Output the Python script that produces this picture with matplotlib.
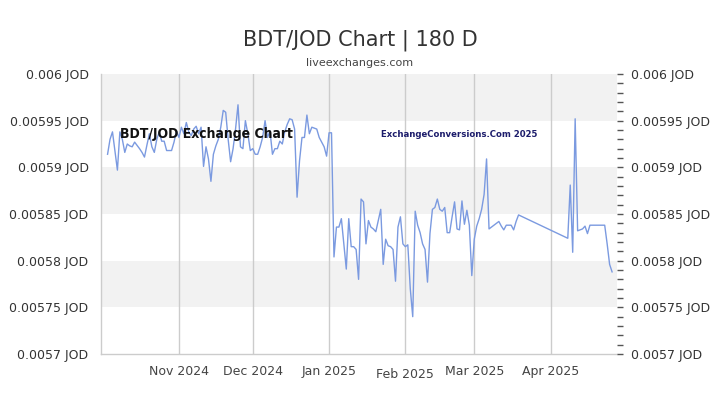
import matplotlib
matplotlib.use("Agg")
import matplotlib.pyplot as plt
import matplotlib.transforms as mtransforms
from matplotlib import font_manager
import pandas as pd

title = "BDT/JOD Chart | 180 D"
subtitle = "liveexchanges.com"
watermark_left = "BDT/JOD Exchange Chart"
watermark_right = "ExchangeConversions.Com 2025"

dates = [
    "2024-10-03", "2024-10-04", "2024-10-05", "2024-10-07", "2024-10-08", "2024-10-09",
    "2024-10-10", "2024-10-11", "2024-10-12", "2024-10-13", "2024-10-14", "2024-10-16",
    "2024-10-17", "2024-10-18", "2024-10-19", "2024-10-20", "2024-10-21", "2024-10-22",
    "2024-10-23", "2024-10-24", "2024-10-25", "2024-10-26", "2024-10-27", "2024-10-28",
    "2024-10-29", "2024-10-30", "2024-10-31",
    "2024-11-01", "2024-11-02", "2024-11-03", "2024-11-04", "2024-11-05", "2024-11-06",
    "2024-11-07", "2024-11-08", "2024-11-09", "2024-11-10", "2024-11-11", "2024-11-12",
    "2024-11-13", "2024-11-14", "2024-11-15", "2024-11-16", "2024-11-17", "2024-11-18",
    "2024-11-19", "2024-11-20", "2024-11-21", "2024-11-22", "2024-11-23", "2024-11-24",
    "2024-11-25", "2024-11-26", "2024-11-27", "2024-11-28", "2024-11-29", "2024-11-30",
    "2024-12-01", "2024-12-02", "2024-12-03", "2024-12-04", "2024-12-05", "2024-12-06",
    "2024-12-07", "2024-12-08", "2024-12-09", "2024-12-10", "2024-12-11", "2024-12-12",
    "2024-12-13", "2024-12-14", "2024-12-15", "2024-12-16", "2024-12-17", "2024-12-18",
    "2024-12-19", "2024-12-20", "2024-12-21", "2024-12-22", "2024-12-23", "2024-12-24",
    "2024-12-25", "2024-12-26", "2024-12-27", "2024-12-28", "2024-12-29", "2024-12-30",
    "2024-12-31",
    "2025-01-01", "2025-01-02", "2025-01-03", "2025-01-04", "2025-01-05", "2025-01-06",
    "2025-01-07", "2025-01-08", "2025-01-09", "2025-01-10", "2025-01-11", "2025-01-12",
    "2025-01-13", "2025-01-14", "2025-01-15", "2025-01-16", "2025-01-17", "2025-01-18",
    "2025-01-19", "2025-01-20", "2025-01-21", "2025-01-22", "2025-01-23", "2025-01-24",
    "2025-01-25", "2025-01-26", "2025-01-27", "2025-01-28", "2025-01-29", "2025-01-30",
    "2025-01-31",
    "2025-02-01", "2025-02-02", "2025-02-03", "2025-02-04", "2025-02-05", "2025-02-06",
    "2025-02-07", "2025-02-08", "2025-02-09", "2025-02-10", "2025-02-11", "2025-02-12",
    "2025-02-13", "2025-02-14", "2025-02-15", "2025-02-16", "2025-02-17", "2025-02-18",
    "2025-02-19", "2025-02-20", "2025-02-21", "2025-02-22", "2025-02-23", "2025-02-24",
    "2025-02-25", "2025-02-26", "2025-02-27", "2025-02-28",
    "2025-03-01", "2025-03-02", "2025-03-03", "2025-03-04", "2025-03-05", "2025-03-06",
    "2025-03-07", "2025-03-08", "2025-03-09", "2025-03-10", "2025-03-11", "2025-03-12",
    "2025-03-13", "2025-03-14", "2025-03-15", "2025-03-16", "2025-03-17", "2025-03-18",
    "2025-03-19",
    "2025-04-08", "2025-04-09", "2025-04-10", "2025-04-11", "2025-04-12", "2025-04-13",
    "2025-04-14", "2025-04-15", "2025-04-16", "2025-04-17", "2025-04-18", "2025-04-19",
    "2025-04-20", "2025-04-21", "2025-04-22", "2025-04-23", "2025-04-24", "2025-04-25",
    "2025-04-26",
]

rates = [
    # October
    0.005914, 0.005930, 0.005938, 0.005897, 0.005938, 0.005930,
    0.005916, 0.005925, 0.005923, 0.005922, 0.005927, 0.005920,
    0.005916, 0.005911, 0.005924, 0.005936, 0.005922, 0.005916,
    0.005930, 0.005938, 0.005928, 0.005928, 0.005918, 0.005918,
    0.005918, 0.005927, 0.005939,
    # November
    0.005932, 0.005943, 0.005936, 0.005948, 0.005938, 0.005934,
    0.005941, 0.005944, 0.005936, 0.005943, 0.005901, 0.005922,
    0.005909, 0.005885, 0.005914, 0.005923, 0.005930, 0.005943,
    0.005961, 0.005959, 0.005930, 0.005906, 0.005920, 0.005941,
    0.005967, 0.005922, 0.005920, 0.005950, 0.005936, 0.005918,
    # December
    0.005920, 0.005914, 0.005914, 0.005922, 0.005932, 0.005950,
    0.005932, 0.005939, 0.005914, 0.005920, 0.005920, 0.005928,
    0.005925, 0.005938, 0.005946, 0.005952, 0.005951, 0.005941,
    0.005868, 0.005907, 0.005932, 0.005932, 0.005956, 0.005936,
    0.005943, 0.005942, 0.005941, 0.005932, 0.005927, 0.005922,
    0.005912,
    # January
    0.005937, 0.005937, 0.005804, 0.005836, 0.005836, 0.005845,
    0.005818, 0.005791, 0.005845, 0.005815, 0.005815, 0.005812,
    0.005780, 0.005866, 0.005863, 0.005818, 0.005843, 0.005836,
    0.005834, 0.005831, 0.005843, 0.005855, 0.005796, 0.005823,
    0.005816, 0.005815, 0.005812, 0.005778, 0.005836, 0.005847,
    0.005818,
    # February
    0.005815, 0.005817, 0.005770, 0.005740, 0.005853, 0.005838,
    0.005830, 0.005818, 0.005812, 0.005777, 0.005829, 0.005855,
    0.005857, 0.005866, 0.005855, 0.005853, 0.005857, 0.005830,
    0.005830, 0.005847, 0.005863, 0.005834, 0.005833, 0.005864,
    0.005839, 0.005854, 0.005838, 0.005784,
    # March
    0.005823, 0.005837, 0.005845, 0.005855, 0.005871, 0.005909,
    0.005834, 0.005836, 0.005838, 0.005840, 0.005842, 0.005837,
    0.005833, 0.005838, 0.005838, 0.005838, 0.005833, 0.005842,
    0.005849,
    # April
    0.005824, 0.005881, 0.005809, 0.005952, 0.005832, 0.005833,
    0.005834, 0.005837, 0.005829, 0.005838, 0.005838, 0.005838,
    0.005838, 0.005838, 0.005838, 0.005838, 0.005818, 0.005796,
    0.005788,
]

y_ticks = [0.0057, 0.00575, 0.0058, 0.00585, 0.0059, 0.00595, 0.006]
y_tick_labels = ["0.0057 JOD", "0.00575 JOD", "0.0058 JOD", "0.00585 JOD",
                 "0.0059 JOD", "0.00595 JOD", "0.006 JOD"]
x_ticks = ["2024-11-01", "2024-12-01", "2025-01-01", "2025-02-01", "2025-03-01", "2025-04-01"]
x_tick_labels = ["Nov 2024", "Dec 2024", "Jan 2025", "Feb 2025", "Mar 2025", "Apr 2025"]
x_range = ["2024-09-30 08:00", "2025-04-28"]
y_range = [0.0057, 0.006]

dts = pd.to_datetime(dates)
xt = pd.to_datetime(x_ticks)

fig = plt.figure(figsize=(7.2, 4.05), dpi=100)
ax = fig.add_axes([101/720, 51/405, 516/720, 280/405])

ax.set_xlim(pd.to_datetime(x_range[0]), pd.to_datetime(x_range[1]))
ax.set_ylim(*y_range)

for i in range(len(y_ticks) - 1):
    if i % 2 == 1:
        ax.axhspan(y_ticks[i], y_ticks[i + 1], color="#f2f2f2", zorder=0, lw=0)

for t in xt:
    ax.axvline(t, color="#cccccc", lw=1, zorder=1)

ax.plot(dts, rates, color="#7b9ae0", lw=1.0, zorder=3)

for s in ["top", "right"]:
    ax.spines[s].set_visible(False)
for s in ["left", "bottom"]:
    ax.spines[s].set_color("#cccccc")
    ax.spines[s].set_linewidth(1)

ax.set_xticks(xt)
ax.set_xticklabels(x_tick_labels)
ax.tick_params(axis="x", length=0, pad=8, labelsize=9, labelcolor="#444444")
for lbl in ax.get_xticklabels():
    if lbl.get_text().startswith("Feb"):
        lbl.set_transform(lbl.get_transform() + mtransforms.ScaledTranslation(0, -3/100, fig.dpi_scale_trans))

ax.set_yticks(y_ticks)
ax.set_yticklabels(y_tick_labels)
ax.tick_params(axis="y", length=0, pad=9, labelsize=9, labelcolor="#333333")

ax2 = ax.twinx()
ax2.set_ylim(*y_range)
ax2.set_yticks(y_ticks)
ax2.set_yticklabels(y_tick_labels)
ax2.yaxis.set_minor_locator(matplotlib.ticker.MultipleLocator(0.00001))
ax2.tick_params(axis="y", which="major", length=4, width=1, color="#555555", pad=6,
                labelsize=9, labelcolor="#333333")
ax2.tick_params(axis="y", which="minor", length=4, width=1, color="#555555")
for s in ["top", "right", "left", "bottom"]:
    ax2.spines[s].set_visible(False)

fig.text(0.5, 1 - 40/405, title, ha="center", va="center", fontsize=15, color="#333333")
fig.text(0.5, 1 - 63/405, subtitle, ha="center", va="center", fontsize=8, color="#444444")

fp_left = font_manager.FontProperties(family="DejaVu Sans", weight="bold", stretch="condensed", size=10)
fp_right = font_manager.FontProperties(family="DejaVu Sans", weight="bold", stretch="condensed", size=6.8)

ax.text(pd.to_datetime("2024-10-08"), 0.005936, watermark_left, ha="left", va="center",
        fontproperties=fp_left, color="#111111", zorder=4)
ax.text(pd.to_datetime("2025-01-22"), 0.005935, watermark_right, ha="left", va="center",
        fontproperties=fp_right, color="#1c1c6b", zorder=4)

fig.savefig("out.png", dpi=100)
